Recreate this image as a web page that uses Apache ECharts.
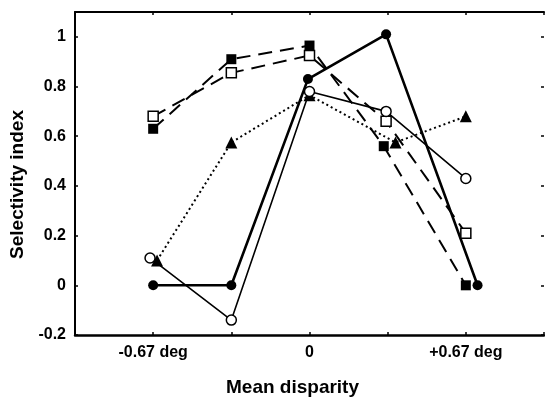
<!DOCTYPE html>
<html>
<head>
<meta charset="utf-8">
<script src="https://cdn.jsdelivr.net/npm/echarts@6/dist/echarts.min.js"></script>
<style>
  html, body { margin: 0; padding: 0; background: #fff; }
  #chart { width: 545px; height: 398px; }
</style>
</head>
<body>
<div id="chart"></div>
<script>
// x positions are in steps of 0.335 deg (-2 = -0.67 deg, 2 = +0.67 deg)
const tickLabels = { '-2': '-0.67 deg', '0': '0', '2': '+0.67 deg' };

const filledCircleX = [-2, -1, -0.02, 0.98, 2.15];
const filledCircleY = [0, 0, 0.83, 1.01, 0];

const openCircleX = [-2.04, -1, 0, 0.98, 2];
const openCircleY = [0.11, -0.14, 0.78, 0.70, 0.43];

const filledSquareX = [-2, -1, 0, 0.95, 2];
const filledSquareY = [0.63, 0.91, 0.965, 0.56, 0];

const openSquareX = [-2, -1, 0, 0.98, 2];
const openSquareY = [0.68, 0.855, 0.925, 0.66, 0.21];

const triangleX = [-1.95, -1, 0, 1.1, 2];
const triangleY = [0.10, 0.575, 0.765, 0.575, 0.68];

const pts = (xs, ys) => xs.map((x, i) => [x, ys[i]]);

const font = '"Liberation Sans", Arial, sans-serif';
const chart = echarts.init(document.getElementById('chart'));

const option = {
  animation: false,
  grid: { left: 75, top: 12, right: 1, bottom: 63, outerBoundsMode: 'none' },
  xAxis: [
    {
      type: 'value', min: -3, max: 3, interval: 1,
      name: 'Mean disparity', nameLocation: 'middle', nameGap: 43,
      nameTextStyle: { fontFamily: font, fontWeight: 'bold', fontSize: 19, color: '#000', padding: [0, 34, 0, 0] },
      axisLine: { onZero: false, lineStyle: { color: '#000', width: 2.5 } },
      axisTick: { inside: true, length: 3, lineStyle: { color: '#000', width: 1.5 } },
      splitLine: { show: false },
      axisLabel: {
        margin: 10, fontFamily: font, fontWeight: 'bold', fontSize: 16, color: '#000',
        formatter: v => tickLabels[String(v)] || ''
      }
    },
    {
      type: 'value', position: 'top', min: -3, max: 3, interval: 1,
      axisLine: { onZero: false, lineStyle: { color: '#000', width: 2 } },
      axisTick: { inside: true, length: 3, lineStyle: { color: '#000', width: 1.5 } },
      axisLabel: { show: false },
      splitLine: { show: false }
    }
  ],
  yAxis: [
    {
      type: 'value', min: -0.2, max: 1.1, interval: 0.2,
      name: 'Selectivity index', nameLocation: 'middle', nameGap: 48,
      nameTextStyle: { fontFamily: font, fontWeight: 'bold', fontSize: 19, color: '#000', padding: [0, 22, 0, 0] },
      axisLine: { show: true, onZero: false, lineStyle: { color: '#000', width: 2 } },
      axisTick: { inside: true, length: 3, lineStyle: { color: '#000', width: 1.5 } },
      splitLine: { show: false },
      axisLabel: {
        margin: 9, fontFamily: font, fontWeight: 'bold', fontSize: 16, color: '#000',
        formatter: v => (v > 1.05 ? '' : String(Math.round(v * 10) / 10))
      }
    },
    {
      type: 'value', position: 'right', min: -0.2, max: 1.1, interval: 0.2,
      axisLine: { show: false, onZero: false },
      axisTick: { show: true, inside: true, length: 3, lineStyle: { color: '#000', width: 1.5 } },
      axisLabel: { show: false },
      splitLine: { show: false }
    }
  ],
  series: [
    {
      name: 'triangle', type: 'line', data: pts(triangleX, triangleY),
      symbol: 'triangle', symbolSize: 12,
      lineStyle: { color: '#000', width: 2, type: [2, 3] },
      itemStyle: { color: '#000' }
    },
    {
      name: 'openSquare', type: 'line', data: pts(openSquareX, openSquareY),
      symbol: 'rect', symbolSize: 10,
      lineStyle: { color: '#000', width: 2, type: [14, 8] },
      itemStyle: { color: '#fff', borderColor: '#000', borderWidth: 1.5 }
    },
    {
      name: 'filledSquare', type: 'line', data: pts(filledSquareX, filledSquareY),
      symbol: 'rect', symbolSize: 10,
      lineStyle: { color: '#000', width: 2, type: [14, 8] },
      itemStyle: { color: '#000' }
    },
    {
      name: 'openCircle', type: 'line', data: pts(openCircleX, openCircleY),
      symbol: 'circle', symbolSize: 10,
      lineStyle: { color: '#000', width: 1.6 },
      itemStyle: { color: '#fff', borderColor: '#000', borderWidth: 1.5 }
    },
    {
      name: 'filledCircle', type: 'line', data: pts(filledCircleX, filledCircleY),
      symbol: 'circle', symbolSize: 10,
      lineStyle: { color: '#000', width: 2.6 },
      itemStyle: { color: '#000' }
    }
  ]
};

chart.setOption(option);
</script>
</body>
</html>
